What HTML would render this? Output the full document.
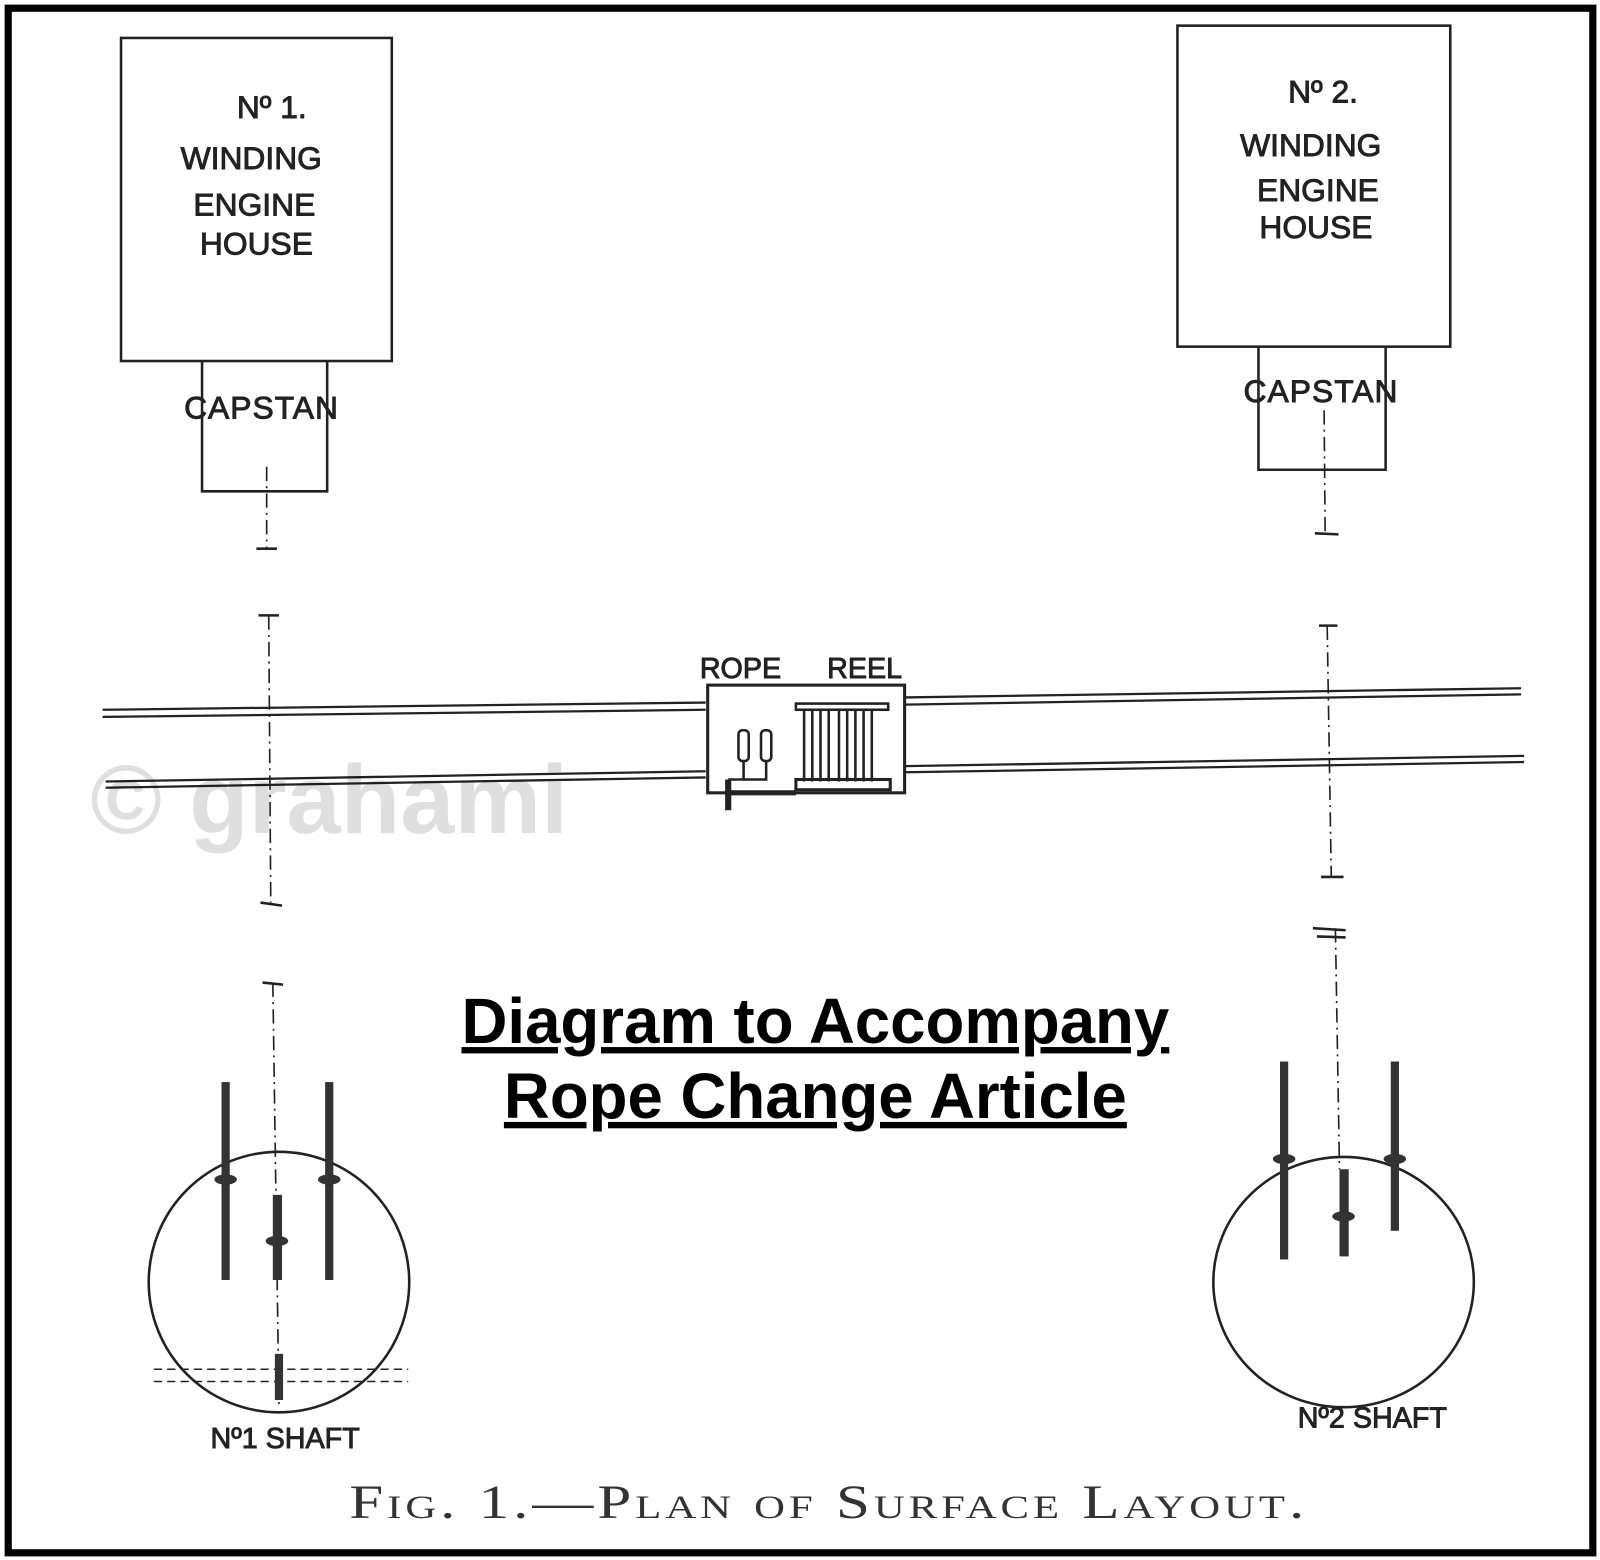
<!DOCTYPE html>
<html><head><meta charset="utf-8">
<style>
html,body{margin:0;padding:0;background:#fff;}
svg{display:block;}
.h{font-family:"Liberation Sans",sans-serif;font-size:31px;fill:#222;stroke:#222;stroke-width:0.9;text-anchor:middle;}
</style></head>
<body>
<svg width="1600" height="1560" viewBox="0 0 1560 1521" preserveAspectRatio="none" xmlns="http://www.w3.org/2000/svg">
<rect x="0" y="0" width="1560" height="1521" fill="#fff"/>
<rect x="8" y="8" width="1545" height="1506" fill="none" stroke="#000" stroke-width="7"/>

<g fill="none" stroke="#222" stroke-width="2.5">
<rect x="118" y="37" width="264" height="315"/>
<polyline points="197,352 197,479 319,479 319,352"/>
<rect x="1148" y="25" width="266" height="313"/>
<polyline points="1227,338 1227,458 1351,458 1351,338"/>
<g stroke-width="1.6" stroke-dasharray="14,5,2,5">
<line x1="260" y1="455" x2="260" y2="535"/>
<line x1="262" y1="600" x2="264" y2="880"/>
<line x1="266" y1="958" x2="272" y2="1370"/>
<line x1="1291" y1="400" x2="1292" y2="520"/>
<line x1="1294" y1="610" x2="1298" y2="855"/>
<line x1="1302" y1="905" x2="1306" y2="1140"/>
</g>
<g stroke-width="2.5">
<line x1="250" y1="535" x2="270" y2="535"/>
<line x1="252" y1="600" x2="272" y2="600"/>
<line x1="254" y1="880" x2="275" y2="883"/>
<line x1="256" y1="958" x2="276" y2="960"/>
<line x1="1282" y1="520" x2="1305" y2="521"/>
<line x1="1286" y1="610" x2="1304" y2="610"/>
<line x1="1288" y1="855" x2="1310" y2="855"/>
<line x1="1280" y1="905" x2="1312" y2="907"/>
<line x1="1284" y1="913" x2="1312" y2="914"/>
</g>
<g stroke-width="2.2">
<line x1="100" y1="692" x2="688" y2="685"/>
<line x1="100" y1="699" x2="688" y2="692"/>
<line x1="882" y1="680" x2="1483" y2="671"/>
<line x1="882" y1="687" x2="1483" y2="677"/>
<line x1="103" y1="762" x2="688" y2="752"/>
<line x1="103" y1="768" x2="688" y2="758"/>
<line x1="882" y1="747" x2="1486" y2="737"/>
<line x1="882" y1="753" x2="1486" y2="743"/>
</g>
<rect x="690" y="668" width="192" height="105" stroke-width="3"/>
<rect x="720" y="712" width="10" height="30" rx="4"/>
<rect x="742" y="712" width="10" height="30" rx="4"/>
<polyline points="725,742 725,760 710,760"/>
<polyline points="747,742 747,760 725,760"/>
<rect x="776" y="686" width="90" height="6"/>
<g stroke-width="2.5">
<line x1="784" y1="692" x2="784" y2="762"/><line x1="792" y1="692" x2="792" y2="762"/>
<line x1="800" y1="692" x2="800" y2="762"/><line x1="808" y1="692" x2="808" y2="762"/>
<line x1="818" y1="692" x2="818" y2="762"/><line x1="826" y1="692" x2="826" y2="762"/>
<line x1="834" y1="692" x2="834" y2="762"/><line x1="842" y1="692" x2="842" y2="762"/>
<line x1="850" y1="692" x2="850" y2="762"/>
</g>
<rect x="776" y="760" width="92" height="10" stroke-width="3"/>
<line x1="710" y1="773" x2="776" y2="773" stroke-width="5"/>
<line x1="710" y1="760" x2="710" y2="790" stroke-width="6"/>
<circle cx="272" cy="1250" r="127" stroke-width="2.5"/>
<ellipse cx="1310" cy="1250" rx="127" ry="122" stroke-width="2.5"/>
<g stroke-width="1.5" stroke-dasharray="8,5">
<line x1="150" y1="1335" x2="398" y2="1335"/>
<line x1="150" y1="1347" x2="398" y2="1347"/>
</g>
</g>
<g fill="#333">
<rect x="216" y="1055" width="8" height="193"/>
<rect x="317" y="1055" width="8" height="193"/>
<rect x="266" y="1165" width="9" height="83"/>
<rect x="268" y="1320" width="8" height="45"/>
<rect x="1248" y="1035" width="8" height="193"/>
<rect x="1356" y="1035" width="8" height="165"/>
<rect x="1306" y="1140" width="9" height="85"/>
<ellipse cx="220" cy="1150" rx="11" ry="5"/>
<ellipse cx="321" cy="1150" rx="11" ry="5"/>
<ellipse cx="270" cy="1210" rx="11" ry="5"/>
<ellipse cx="1252" cy="1130" rx="11" ry="5"/>
<ellipse cx="1360" cy="1130" rx="11" ry="5"/>
<ellipse cx="1310" cy="1186" rx="11" ry="5"/>
</g>

<text class="h" x="265" y="115">Nº 1.</text>
<text class="h" x="245" y="165">WINDING</text>
<text class="h" x="248" y="210">ENGINE</text>
<text class="h" x="250" y="248">HOUSE</text>
<text class="h" x="255" y="408" style="letter-spacing:1px">CAPSTAN</text>
<text class="h" x="1290" y="100">Nº 2.</text>
<text class="h" x="1278" y="152">WINDING</text>
<text class="h" x="1285" y="196">ENGINE</text>
<text class="h" x="1283" y="232">HOUSE</text>
<text class="h" x="1288" y="392" style="letter-spacing:1px">CAPSTAN</text>
<text class="h" x="722" y="661" style="font-size:28px">ROPE</text>
<text class="h" x="843" y="661" style="font-size:28px">REEL</text>
<text class="h" x="278" y="1412" style="font-size:28px">Nº1 SHAFT</text>
<text class="h" x="1338" y="1392" style="font-size:28px">Nº2 SHAFT</text>

<text x="88" y="812" style="font-family:'Liberation Sans',sans-serif;font-weight:bold;font-size:95px;fill:#000;opacity:0.12">© grahami</text>

<text x="795" y="1017" text-anchor="middle" style="font-family:'Liberation Sans',sans-serif;font-weight:bold;font-size:62px;text-decoration:underline;fill:#000">Diagram to Accompany</text>
<text x="795" y="1090" text-anchor="middle" style="font-family:'Liberation Sans',sans-serif;font-weight:bold;font-size:62px;text-decoration:underline;fill:#000">Rope Change Article</text>

<text x="808" y="1480" text-anchor="middle" style="font-family:'Liberation Serif',serif;font-size:46px;fill:#333;font-variant:small-caps;letter-spacing:3px" textLength="935" lengthAdjust="spacingAndGlyphs">Fig. 1.—Plan of Surface Layout.</text>
</svg>
</body></html>
